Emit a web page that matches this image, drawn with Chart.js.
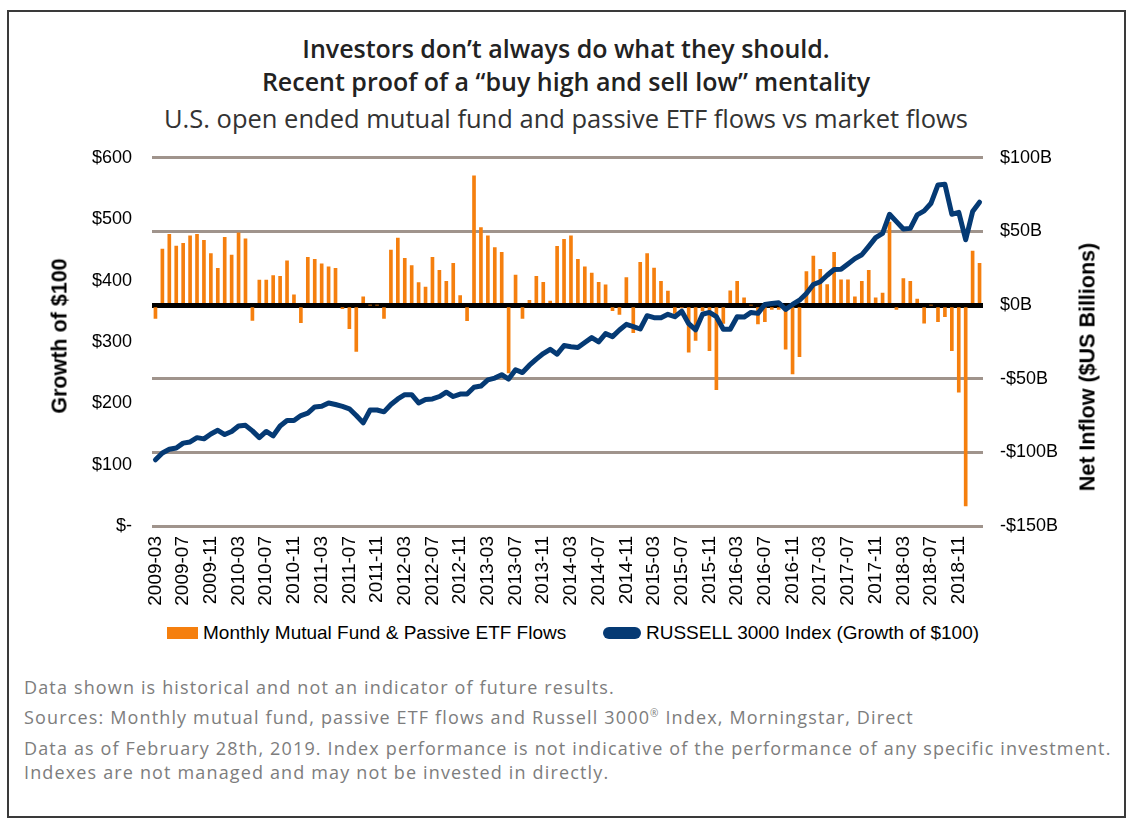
<!DOCTYPE html>
<html>
<head>
<meta charset="utf-8">
<script src="https://cdn.jsdelivr.net/npm/chart.js@4"></script>
<style>
  body { margin:0; background:#fff; }
  #wrap { position:relative; width:1132px; height:822px; }
  #frame { position:absolute; left:7px; top:10px; width:1115px; height:804px; border:2px solid #3a3a3a; }
  .t { position:absolute; left:0; width:1132px; text-align:center; font-family:"Open Sans",sans-serif; color:#222; white-space:nowrap; }
  #t1 { top:31px; font-size:25px; font-weight:600; }
  #t2 { top:64px; font-size:25px; font-weight:600; }
  #t3 { top:101px; font-size:25.5px; font-weight:400; color:#333; }
  #chartBox { position:absolute; left:0; top:127px; width:1132px; height:493px; }
  .ax { position:absolute; font-family:"Liberation Sans",Arial,sans-serif; font-weight:bold; font-size:21.5px; color:#000; white-space:nowrap; transform:translate(-50%,-50%) rotate(-90deg); }
  #legend { position:absolute; top:622px; left:0; width:1132px; font-family:"Liberation Sans",Arial,sans-serif; font-size:19px; color:#000; }
  .lg { position:absolute; top:0; white-space:nowrap; }
  .sw { display:inline-block; vertical-align:middle; margin-right:5px; position:relative; top:-1px; }
  .notes { position:absolute; left:24px; font-family:"Open Sans",sans-serif; font-size:18px; letter-spacing:1.15px; color:#7d7d7d; white-space:nowrap; }
</style>
</head>
<body>
<div id="wrap">
  <div id="frame"></div>
  <div class="t" id="t1">Investors don’t always do what they should.</div>
  <div class="t" id="t2">Recent proof of a “buy high and sell low” mentality</div>
  <div class="t" id="t3">U.S. open ended mutual fund and passive ETF flows vs market flows</div>
  <div id="chartBox"><canvas id="chart" width="1132" height="493"></canvas></div>
  <div class="ax" style="left:60px;top:336px;">Growth of $100</div>
  <div class="ax" style="left:1088px;top:367px;">Net Inflow ($US Billions)</div>
  <div id="legend">
    <div class="lg" style="left:167px;"><span class="sw" style="width:31px;height:12px;background:#f57f0e;"></span>Monthly Mutual Fund &amp; Passive ETF Flows</div>
    <div class="lg" style="left:603px;"><span class="sw" style="width:38px;height:12px;border-radius:6px;background:#053a74;"></span>RUSSELL 3000 Index (Growth of $100)</div>
  </div>
  <div class="notes" style="top:675px;">Data shown is historical and not an indicator of future results.</div>
  <div class="notes" style="top:705px;">Sources: Monthly mutual fund, passive ETF flows and Russell 3000<sup style="font-size:10px">®</sup> Index, Morningstar, Direct</div>
  <div class="notes" style="top:736px;">Data as of February 28th, 2019. Index performance is not indicative of the performance of any specific investment.</div>
  <div class="notes" style="top:760px;">Indexes are not managed and may not be invested in directly.</div>
</div>
<script>
// months 2009-03 .. 2019-02
const months = [];
for (let y = 2009, m = 3; months.length < 120; m++) {
  if (m > 12) { m = 1; y++; }
  months.push(y + '-' + String(m).padStart(2, '0'));
}

// monthly net flows, $US billions
const flows = [
  -9, 38, 48, 40, 42, 47, 48, 44, 35, 25, 46, 34, 49, 45, -10.5, 17, 17, 20, 19.5, 30,
  7, -12, 32.4, 31, 28, 26, 25, -2.5, -16, -31.5, 5.6, 0, 0, -9, 37.4, 45.5, 31.8, 26.8, 15.3, 12.2,
  32.4, 23.6, 16.2, 28.4, 6.5, -10.6, 87.8, 52.7, 47, 39, 35.8, -46, 20.3, -9, 3.2, 19.6, 15.5, 2.7, 39.9, 44.6,
  47, 31, 26, 21.8, 15.5, 13.7, -3.8, -6.3, 18.7, -18.7, 29, 35, 25.2, 16.2, 9.5, -5.6, -2, -32, -24, -4,
  -31, -57.4, -12.4, 9.7, 16.2, 5, 0, -12.8, -11.3, -3, -3, -30, -46.8, -35, 22.7, 33.3, 24.3, 14, 35.8, 17.1,
  17.1, 5.6, 16.2, 23.6, 5, 8.1, 56.3, -3, 18, 16.2, 4, -12.2, 0, -11.3, -7.9, -30.9, -59.2, -136.3, 36.7, 28.4
];

// Russell 3000, growth of $100
const russell = [
  108, 119, 125, 127, 135, 137, 144, 142, 150, 156, 149, 154, 163, 164, 155, 144, 154, 147, 163, 172,
  172, 180, 184, 194, 195, 200.5, 198, 195, 191, 180, 168, 189, 189, 186, 198, 207, 214, 214, 200.5, 206,
  207, 211, 218, 211, 215, 215, 226, 228, 238, 241, 246.5, 239.5, 254.6, 250, 262, 272, 281, 288, 280, 294,
  292, 291, 299, 307, 300, 313.5, 308.6, 319.5, 328.6, 325, 321, 342.7, 339.5, 339.5, 345, 341, 350, 329.7, 319.5, 345,
  348, 341, 320.5, 320.5, 341, 340.5, 348, 346.5, 361, 362.7, 363.8, 353, 361, 368, 379, 393.5, 398, 408.6, 418, 418.4,
  427, 435.7, 442, 455.7, 470, 477, 508, 496, 484, 485, 507, 513.5, 526, 555.7, 557, 508, 511, 466.5, 512.4, 527.6
];

const leftTicks = [0, 100, 200, 300, 400, 500, 600];
const rightTicks = [-150, -100, -50, 0, 50, 100];

const tickFont = { family: '"Liberation Sans", Arial, sans-serif', size: 18 };

new Chart(document.getElementById('chart'), {
  data: {
    labels: months,
    datasets: [
      { type: 'bar', label: 'Monthly Mutual Fund & Passive ETF Flows', data: flows, yAxisID: 'y1',
        backgroundColor: '#f57f0e', barThickness: 3, order: 2 },
      { type: 'line', label: 'RUSSELL 3000 Index (Growth of $100)', data: russell, yAxisID: 'y',
        borderColor: '#053a74', borderWidth: 5, pointRadius: 0, tension: 0,
        borderJoinStyle: 'round', borderCapStyle: 'round', order: 1 }
    ]
  },
  options: {
    responsive: false,
    animation: false,
    layout: { padding: { top: 2, left: 0, right: 0, bottom: 0 } },
    plugins: { legend: { display: false }, tooltip: { enabled: false } },
    scales: {
      x: {
        offset: true,
        grid: { display: false },
        border: { display: false },
        ticks: {
          autoSkip: false, minRotation: 90, maxRotation: 90, padding: 2,
          color: '#000', font: { family: '"Liberation Sans", Arial, sans-serif', size: 19 },
          callback: (v, i) => i % 4 === 0 ? months[i] : ''
        },
        afterFit: s => { s.height = 94; }
      },
      y: {
        position: 'left', min: 0, max: 600,
        grid: { display: false, drawTicks: false },
        border: { display: false },
        afterBuildTicks: s => { s.ticks = leftTicks.map(v => ({ value: v })); },
        ticks: { padding: 20, color: '#000', font: tickFont,
          callback: v => v === 0 ? '$-' : '$' + v },
        afterFit: s => { s.width = 152; }
      },
      y1: {
        position: 'right', min: -150, max: 100,
        grid: {
          drawTicks: false,
          color: c => c.tick && c.tick.value === 0 ? '#000' : '#a0948c',
          lineWidth: c => c.tick && c.tick.value === 0 ? 5 : 3
        },
        border: { display: false },
        afterBuildTicks: s => { s.ticks = rightTicks.map(v => ({ value: v })); },
        ticks: { padding: 17, color: '#000', font: tickFont,
          callback: v => v < 0 ? '-$' + (-v) + 'B' : '$' + v + 'B' },
        afterFit: s => { s.width = 149; }
      }
    }
  }
});
</script>
</body>
</html>
